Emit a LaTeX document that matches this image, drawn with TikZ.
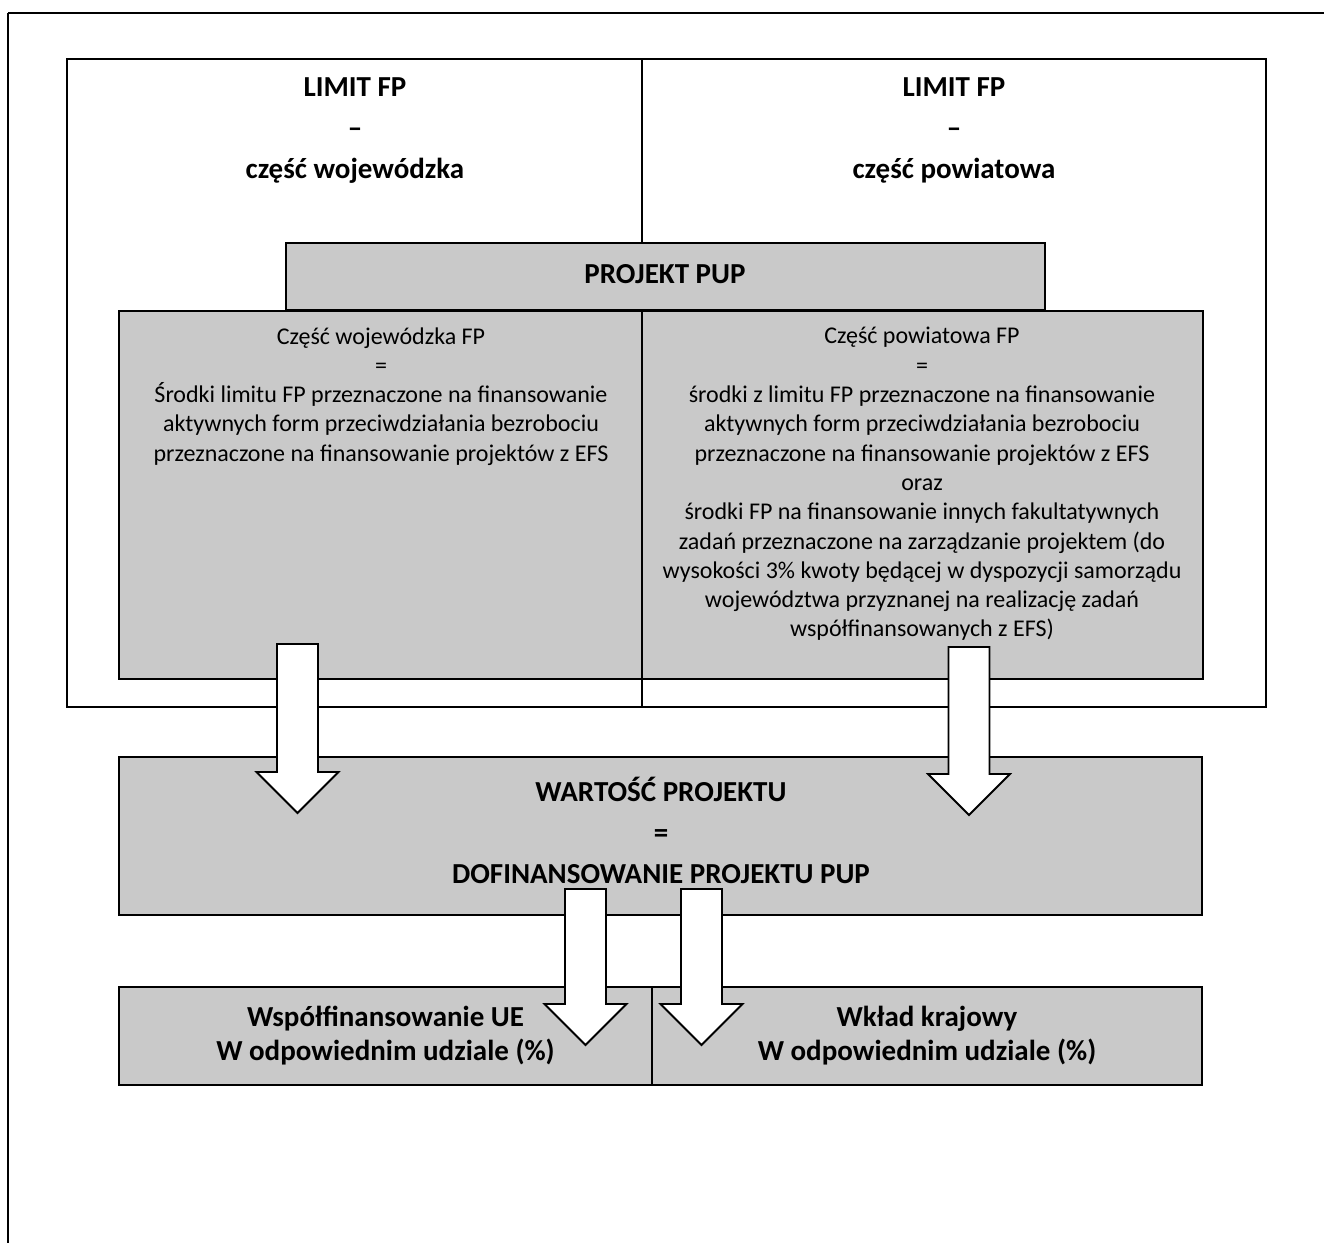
\documentclass[tikz,border=0pt]{standalone}
\usepackage{fontspec}
\setmainfont{Carlito}
\usetikzlibrary{fit,calc}
\definecolor{boxgray}{gray}{0.79}
\newcommand{\blockdown}[2]{%
  \draw[blockarrow] ($(#1)+(-20.5,0)$) -- ($(#1)+(20.5,0)$) -- ($(#2)+(20.5,-41)$)
    -- ($(#2)+(41,-41)$) -- (#2) -- ($(#2)+(-41,-41)$) -- ($(#2)+(-20.5,-41)$) -- cycle;}
\begin{document}
\begin{tikzpicture}[x=0.5pt,y=-0.5pt,
  outerline/.style={draw=black,line width=1.1pt},
  limitbox/.style={draw=black,line width=0.9pt,inner sep=0pt},
  gbox/.style={draw=black,line width=0.9pt,fill=boxgray,inner sep=0pt},
  divider/.style={draw=black,line width=0.6pt},
  regtxt/.style={align=center,inner sep=0pt,font=\fontsize{12pt}{14.65pt}\selectfont},
  boldtxt/.style={align=center,inner sep=0pt,font=\fontsize{14.5pt}{20.5pt}\selectfont\bfseries},
  bottxt/.style={align=center,inner sep=0pt,font=\fontsize{14.5pt}{17pt}\selectfont\bfseries},
  blockarrow/.style={draw=black,line width=0.9pt,fill=white,line join=miter}]
\useasboundingbox (0,0) rectangle (1324,1243);
% outer frame (partly cropped)
\coordinate (frBL) at (8,1243);
\coordinate (frTL) at (8,13);
\coordinate (frTR) at (1324,13);
\draw[line width=0.6pt] (frBL) -- (frTL);
\draw[outerline] (frTL) -- (frTR);
% LIMIT box
\node[limitbox,fit={(67,59)(1266,707)}] (limit) {};
\coordinate (divTop) at (642,59);
\coordinate (divBot) at (642,707);
\draw[divider] (divTop) -- (divBot);
\node[boldtxt,anchor=north] (limL) at (355,77) {LIMIT FP\\–\\część wojewódzka};
\node[boldtxt,anchor=north] (limR) at (954,77) {LIMIT FP\\–\\część powiatowa};
% PROJEKT PUP
\node[gbox,fit={(286,243)(1045,310)}] (pup) {};
\node[boldtxt] (puptxt) at (665,274) {PROJEKT PUP};
% grey halves
\node[gbox,fit={(119,311)(642,679)}] (gl) {};
\node[gbox,fit={(642,311)(1203,679)}] (gr) {};
\node[regtxt,anchor=north] (gltxt) at (381,327) {Część wojewódzka FP\\=\\Środki limitu FP przeznaczone na finansowanie\\aktywnych form przeciwdziałania bezrobociu\\przeznaczone na finansowanie projektów z EFS};
\node[regtxt,anchor=north] (grtxt) at (922,327) {Część powiatowa FP\\=\\środki z limitu FP przeznaczone na finansowanie\\aktywnych form przeciwdziałania bezrobociu\\przeznaczone na finansowanie projektów z EFS\\oraz\\środki FP na finansowanie innych fakultatywnych\\zadań przeznaczone na zarządzanie projektem (do\\wysokości 3\% kwoty będącej w dyspozycji samorządu\\województwa przyznanej na realizację zadań\\współfinansowanych z EFS)};
% WARTOSC
\node[gbox,fit={(119,757)(1202,915)}] (wart) {};
\node[boldtxt] (warttxt) at (661,830) {WARTOŚĆ PROJEKTU\\=\\DOFINANSOWANIE PROJEKTU PUP};
% bottom boxes
\node[gbox,fit={(119,987)(652,1085)}] (ue) {};
\node[gbox,fit={(652,987)(1202,1085)}] (kraj) {};
\node[bottxt] (uetxt) at (ue.center) {Współfinansowanie UE\\W odpowiednim udziale (\%)};
\node[bottxt] (krajtxt) at (kraj.center) {Wkład krajowy\\W odpowiednim udziale (\%)};
% block arrows
\coordinate (a1s) at (297.5,644);
\coordinate (a1e) at (297.5,813);
\coordinate (a2s) at (969,647);
\coordinate (a2e) at (969,815);
\coordinate (a3s) at (585.5,889);
\coordinate (a3e) at (585.5,1045);
\coordinate (a4s) at (701.5,889);
\coordinate (a4e) at (701.5,1045);
\blockdown{a1s}{a1e}
\blockdown{a2s}{a2e}
\blockdown{a3s}{a3e}
\blockdown{a4s}{a4e}
\end{tikzpicture}
\end{document}
